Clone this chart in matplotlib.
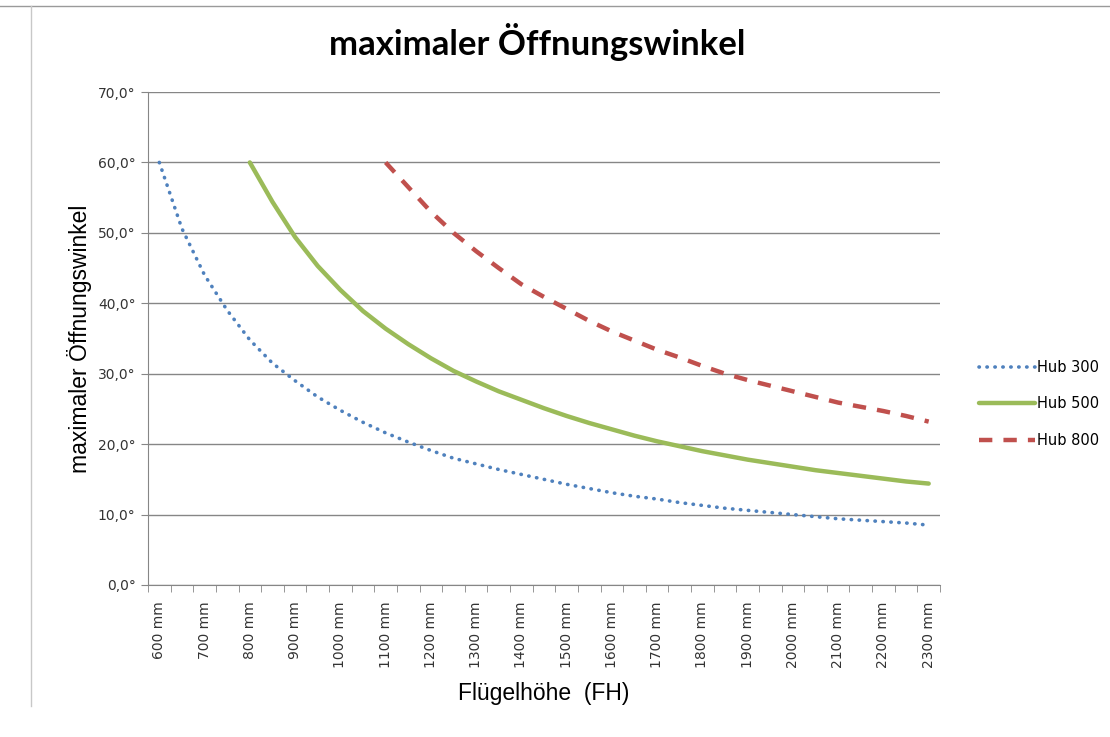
import numpy as np
import matplotlib.pyplot as plt
from matplotlib.lines import Line2D

# Flügelhöhe in mm, every 50 mm (labels shown at every 100 mm)
fh = list(range(600, 2350, 50))

hub300 = [60.0, 50.6, 44.0, 39.0, 34.8, 31.5, 29.0, 26.7, 24.8, 23.1,
          21.6, 20.3, 19.1, 18.0, 17.2, 16.4, 15.7, 15.0, 14.3, 13.7,
          13.1, 12.6, 12.2, 11.7, 11.3, 10.9, 10.6, 10.3, 10.0, 9.7,
          9.4, 9.2, 9.0, 8.8, 8.5]

hub500 = [None, None, None, None, 60.0, 54.4, 49.4, 45.3, 41.9, 38.9,
          36.4, 34.2, 32.2, 30.4, 28.9, 27.5, 26.3, 25.1, 24.0, 23.0,
          22.1, 21.2, 20.4, 19.7, 19.0, 18.4, 17.8, 17.3, 16.8, 16.3,
          15.9, 15.5, 15.1, 14.7, 14.4]

hub800 = [None, None, None, None, None, None, None, None, None, None,
          60.0, 56.5, 53.0, 50.0, 47.4, 45.0, 42.7, 40.9, 39.2, 37.5,
          36.0, 34.7, 33.4, 32.3, 31.1, 30.0, 29.1, 28.3, 27.5, 26.7,
          25.9, 25.3, 24.7, 24.0, 23.2]

y_ticks = [0, 10, 20, 30, 40, 50, 60, 70]
y_labels = ["0,0°", "10,0°", "20,0°", "30,0°", "40,0°", "50,0°", "60,0°", "70,0°"]

x = np.arange(len(fh))
x_labels = ["%d mm" % v for v in fh]

fig = plt.figure(figsize=(11.1, 7.37), dpi=100)
ax = fig.add_axes([148 / 1110, 1 - 585 / 737, (940 - 148) / 1110, (585 - 92) / 737])

ax.plot(x, np.array(hub300, dtype=float), color="#4F81BD", lw=2.6,
        linestyle=(0, (0.1, 2.1)), dash_capstyle="round", label="Hub 300")
ax.plot(x, np.array(hub500, dtype=float), color="#9BBB59", lw=3.2,
        solid_capstyle="round", solid_joinstyle="round", label="Hub 500")
ax.plot(x, np.array(hub800, dtype=float), color="#C0504D", lw=3.2,
        linestyle=(0, (3.0, 2.5)), label="Hub 800")

ax.set_xlim(-0.5, len(fh) - 0.5)
ax.set_ylim(0, 70)

ax.set_yticks(y_ticks)
ax.set_yticklabels(y_labels, fontsize=10, family="DejaVu Sans", color="#333333")
ax.yaxis.grid(True, color="#868686", lw=1)
ax.set_axisbelow(True)

ax.set_xticks(x[::2])
ax.set_xticklabels(x_labels[::2], rotation=90, fontsize=10, family="DejaVu Sans",
                   color="#333333")
ax.set_xticks(np.arange(-0.5, len(fh), 1), minor=True)
ax.tick_params(axis="x", which="major", length=0, pad=12)
ax.tick_params(axis="x", which="minor", length=5, color="#868686")
ax.tick_params(axis="y", length=5, color="#868686", pad=4)

for s in ["top", "right"]:
    ax.spines[s].set_visible(False)
for s in ["left", "bottom"]:
    ax.spines[s].set_color("#868686")

ax.set_ylabel("maximaler Öffnungswinkel", fontsize=16.5, family="Liberation Sans",
              labelpad=4)
ax.set_xlabel("Flügelhöhe  (FH)", fontsize=16.5, family="Liberation Sans", labelpad=10)

fig.text(0.484, 0.943, "maximaler Öffnungswinkel", ha="center", va="center",
         fontsize=25, fontweight="bold", family="Lato")

leg = ax.legend(loc="center left", bbox_to_anchor=(966 / 1110, 1 - 404 / 737),
                bbox_transform=fig.transFigure, frameon=False, handlelength=3.8,
                labelspacing=1.5, handletextpad=0.2,
                prop={"family": "DejaVu Sans", "size": 10.5})

# frame of the screenshot
fig.add_artist(Line2D([0, 1], [1 - 6 / 737, 1 - 6 / 737], color="#9a9a9a", lw=1,
                      transform=fig.transFigure))
fig.add_artist(Line2D([31 / 1110, 31 / 1110], [1 - 6 / 737, 1 - 706 / 737],
                      color="#c8c8c8", lw=1, transform=fig.transFigure))

fig.savefig("out.png", dpi=100)
